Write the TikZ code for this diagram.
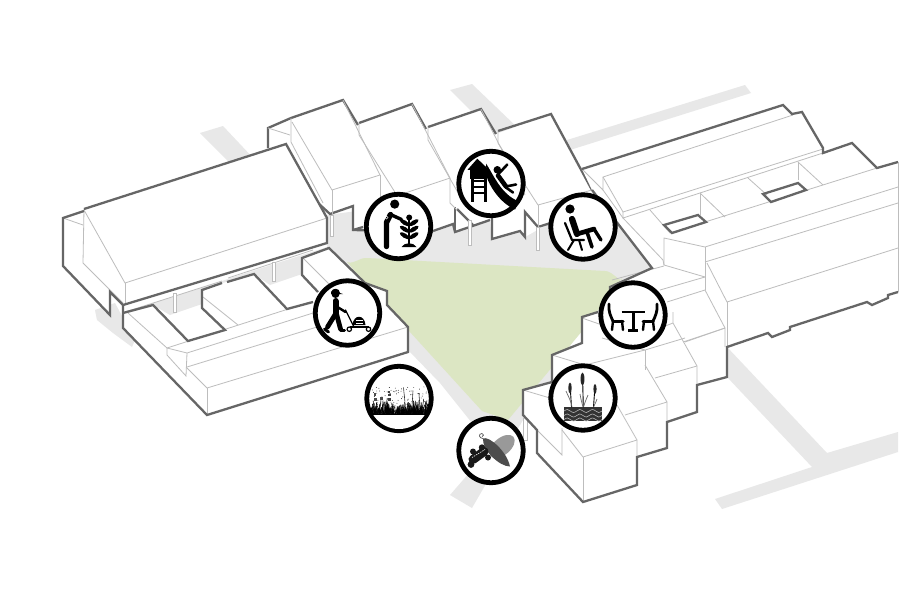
\documentclass[tikz,border=0pt]{standalone}
\usetikzlibrary{shapes.geometric}
\definecolor{ground}{HTML}{E8E8E8}
\definecolor{lawn}{HTML}{DCE6C3}
\definecolor{heavy}{HTML}{666666}
\definecolor{fine}{HTML}{BDBDBD}
\tikzset{
  road/.style={fill=ground,draw=none},
  mass/.style={fill=white,draw=none},
  hvy/.style={draw=heavy,line width=2.3pt,line join=miter},
  thn/.style={draw=fine,line width=.8pt},
  post/.style={fill=white,draw=fine,line width=.8pt},
  badge/.style={circle,draw=black,fill=white,line width=4.8pt,minimum size=64.4pt,inner sep=0pt},
  ink/.style={draw=black,line cap=round,line join=round},
}
\begin{document}
\begin{tikzpicture}[x=1pt,y=-1pt]
\useasboundingbox (0,0) rectangle (900,600);
\fill[white] (0,0) rectangle (900,600);
% roads
\path[road] (200,133)--(223,126)--(255,160)--(232,165)--cycle;
\path[road] (95,310)--(115,303)--(135,340)--(132,347)--(113,333)--(97,320)--cycle;
\path[road] (450,90)--(472,84)--(520,130)--(495,135)--cycle;
\path[road] (567,140)--(745,85)--(751,93)--(570,150)--cycle;
\path[road] (727,347)--(827,453)--(898,432)--(898,452)--(722,509)--(715,499)--(812,467)--(727,377)--cycle;
% courtyard
\path[road] (327,215)--(590,180)--(652,268)--(583,320)--(552,382)--(523,420)--(472,508)--(450,495)--(470,472)--(476,428)--(440,383)--(408,350)--(327,250)--cycle;
\path[fill=lawn] (347,262) to[out=-20,in=175] (367,258)--(605,271) to[out=5,in=-90] (622,278)--(583,330)--(508,420)--(482,411)--(358,275)--cycle;
% row of gabled houses
\path[mass] (268,148)--(268,128)--(291,118)--(343,100)--(358,125)--(412,104)--(426,129)--(481,109)--(496,134)--(551,114)--(592,190)--(618,235)--(548,224)--(525,237)--(520,232)--(492,240)--(490,219)--(455,232)--(453,225)--(433,232)--(353,230)--(353,206)--(328,215)--cycle;
\draw[hvy] (268,148)--(268,128)--(291,118)--(343,100)--(358,125);
\draw[hvy] (359,123)--(412,104)--(426,129);
\draw[hvy] (428,127)--(481,109)--(496,134);
\draw[hvy] (498,131)--(551,114)--(592,190);
\draw[hvy] (318,203)--(330,214)--(353,206)--(353,230)--(433,232);
\draw[hvy] (363,227)--(353,230);
\draw[hvy] (433,231)--(453,224)--(455,232)--(490,220);
\draw[hvy] (455,207)--(455,232);
\draw[hvy] (457,209)--(473,225);
\draw[hvy] (492,218)--(492,239)--(520,231)--(525,237)--(525,212)--(538,227)--(560,220);
\draw[thn] (268,128)--(290,135);
\draw[thn] (291,118)--(291,142)--(323,203);
\draw[thn] (292,122)--(332,190)--(380,175)--(343,100);
\draw[thn] (332,190)--(332,214);
\draw[thn] (380,175)--(380,200);
\draw[thn] (359,123)--(359,135)--(398,197);
\draw[thn] (412,104)--(450,178)--(405,193);
\draw[thn] (428,127)--(428,140)--(465,205);
\draw[thn] (450,178)--(450,203)--(457,210);
\draw[thn] (481,109)--(525,195);
\draw[thn] (498,131)--(498,143)--(538,205)--(592,190);
\draw[thn] (538,205)--(538,227);
\draw[post] (330,215) rectangle (333,236);
\draw[post] (468,220) rectangle (471,245);
\draw[post] (536,227) rectangle (539.5,250);
% left building eave band
\path[road] (125,310)--(327,245)--(329,248)--(302,258)--(302,274)--(270,285)--(254,274)--(227,282)--(202,290)--(202,304)--(170,315)--(153,305)--(125,313)--cycle;
\path[fill=white] (124,305)--(327,243)--(327,247)--(230,278)--(222,281)--(125,312)--cycle;
\draw[thn] (125,312)--(222,281);
\draw[thn] (228,278)--(313,250);
\draw[post] (173.5,293) rectangle (176.5,312);
\draw[post] (272,262) rectangle (275,281);
% left building
\path[mass] (63,218)--(84,211)--(84,209)--(286,144)--(327,218)--(327,243)--(123,305)--(110,292)--(110,315)--(63,266)--cycle;
\draw[thn] (84,209)--(83,263)--(123,303);
\draw[thn] (84,210)--(125,283)--(327,218);
\draw[thn] (125,283)--(125,304);
\draw[thn] (63,218)--(83,225);
\draw[hvy] (84,209)--(286,144)--(327,218)--(327,243)--(123,305)--(110,292)--(110,315)--(63,266)--(63,218)--(84,211);
% left terrace
\path[mass] (123,313)--(153,305)--(188,341)--(225,330)--(202,308)--(202,290)--(222,283)--(227,282)--(254,274)--(287,309)--(313,302)--(302,275)--(302,258)--(329,248)--(365,283)--(387,291)--(387,305)--(408,327)--(408,352)--(207,415)--(123,328)--cycle;
\draw[thn] (128,313)--(167,348)--(187,353)--(313,313);
\draw[thn] (167,348)--(310,302);
\draw[thn] (203,297)--(238,325);
\draw[thn] (167,348)--(167,355)--(186,376)--(187,353);
\draw[thn] (187,367)--(317,327);
\draw[thn] (187,368)--(207,388)--(408,327);
\draw[thn] (207,388)--(207,415);
\draw[thn] (303,258)--(330,285);
\draw[hvy] (123,305)--(123,328)--(207,415)--(408,352)--(408,327)--(387,305)--(387,291)--(365,283)--(329,248)--(302,258)--(302,275)--(318,292);
\draw[hvy] (123,313)--(153,305)--(188,341)--(225,330)--(202,308)--(202,290)--(222,283);
\draw[hvy] (227,282)--(254,274)--(287,309)--(313,302);
% right building
\path[mass] (582,169)--(783,105)--(792,114)--(802,112)--(823,148)--(823,153)--(852,143)--(877,168)--(898,162)--(898,292)--(888,295)--(888,298)--(872,305)--(867,302)--(790,327)--(790,330)--(772,337)--(768,333)--(727,347)--(727,377)--(697,385)--(697,412)--(667,422)--(667,448)--(637,457)--(637,485)--(583,502)--(537,453)--(537,430)--(523,415)--(523,390)--(552,382)--(552,355)--(582,343)--(582,317)--(598,312)--(610,305)--(610,287)--(652,268)--(592,190)--cycle;
% roofs
\draw[thn] (582,169)--(603,190)--(603,177)--(793,115);
\draw[thn] (603,177)--(623,212)--(823,149);
\draw[thn] (623,212)--(623,218)--(823,153);
\draw[thn] (603,190)--(623,218)--(663,260)--(664,265);
\draw[thn] (664,265)--(705,277);
\draw[thn] (664,265)--(664,238)--(705,247)--(898,187);
\draw[thn] (705,247)--(705,290);
\draw[thn] (705,262)--(898,203);
\draw[thn] (707,263)--(727,302)--(898,248);
\draw[thn] (727,302)--(727,347);
\draw[thn] (705,290)--(725,328)--(725,347);
\draw[thn] (650,210)--(670,233);
\draw[thn] (700,193)--(700,215);
\draw[thn] (700,193)--(725,217);
\draw[thn] (748,178)--(767,195);
\draw[thn] (798,162)--(798,180);
\draw[thn] (798,162)--(823,185);
\draw[thn] (670,233)--(877,168);
\draw[thn] (612,280)--(664,266);
\draw[thn] (705,277)--(660,290);
\draw[thn] (705,290)--(667,302);
\draw[thn] (725,328)--(683,342);
\draw[hvy] (664,225)--(698,215)--(706,222)--(672,233)--cycle;
\draw[hvy] (763,194)--(798,183)--(806,190)--(771,202)--cycle;
% stepped terraces
\draw[thn] (582,318)--(602,325);
\draw[thn] (673,312)--(673,323)--(697,366)--(697,385);
\draw[thn] (602,338)--(645,350)--(685,338);
\draw[thn] (645,350)--(645,370);
\draw[thn] (552,355)--(585,365)--(645,350);
\draw[thn] (685,342)--(725,328);
\draw[thn] (673,323)--(655,330);
\draw[thn] (645,365)--(667,402)--(667,422);
\draw[thn] (655,378)--(697,366);
\draw[thn] (625,415)--(667,402);
\draw[thn] (617,405)--(637,440)--(637,457);
\draw[thn] (583,457)--(637,440);
\draw[thn] (583,457)--(583,502);
\draw[thn] (583,457)--(562,430);
\draw[thn] (523,390)--(550,398);
\draw[thn] (537,430)--(562,455)--(562,428);
\draw[thn] (523,418)--(523,440);
\draw[thn] (527,420)--(527,440)--(523,440);
% outlines of right building
\draw[hvy] (582,169)--(783,105)--(792,114)--(802,112)--(823,148)--(823,153)--(852,143)--(877,168)--(898,162);
\draw[thn] (898,162)--(898,292);
\draw[hvy] (898,292)--(888,295)--(888,298)--(872,305)--(867,302)--(790,327)--(790,330)--(772,337)--(768,333)--(727,347)--(727,377)--(697,385)--(697,412)--(667,422)--(667,448)--(637,457)--(637,485)--(583,502)--(537,453)--(537,430)--(523,415)--(523,390)--(552,382)--(552,355)--(582,343)--(582,317)--(598,312);
\draw[hvy] (610,305)--(610,287)--(652,268)--(592,190);
% badges
\node[badge] (tend) at (398.5,226.5) {};
\node[badge] (slide) at (491,183.5) {};
\node[badge] (sit) at (583,227) {};
\node[badge] (mower) at (347.5,313) {};
\node[badge] (meadow) at (399,398.5) {};
\node[badge] (table) at (633,315) {};
\node[badge] (reed) at (583,398) {};
\node[badge] (bean) at (491,450.5) {};
% gardener
\begin{scope}[shift={(tend.center)}]
\fill (-3.8,-22.4) circle (4.6);
\draw[ink,line width=5.4pt] (-12,20)--(-12,-4)--(-8,-12);
\draw[ink,line width=3.4pt] (-8,-12)--(3,-7);
\draw[white,line width=.5pt] (-12,-9) circle (1.6);
\draw[ink,line width=1.6pt] (10.7,-8)--(10.7,18);
\fill (10.7,-9) circle (3);
\foreach \yy in {-1,5.5,12}{
  \fill[rotate around={32:(10.7,\yy)}] (16,\yy) ellipse (5.6 and 2.2);
  \fill[rotate around={-32:(10.7,\yy)}] (5.4,\yy) ellipse (5.6 and 2.2);
}
\fill (3,20.5) .. controls (6,15.5) and (15,15.5) .. (18,20.5)--cycle;
\end{scope}
% slide
\begin{scope}[shift={(slide.center)}]
\fill (-13.7,-24.8)--(-23.5,-13.7)--(-2,-13.7)--cycle;
\fill (-21,-14) rectangle (-3.7,-4.5);
\draw[ink,line width=3pt,line cap=butt] (-18.7,-6)--(-18.7,18.5);
\draw[ink,line width=3pt,line cap=butt] (-5.3,-6)--(-5.3,18.5);
\foreach \yy in {-3,3,9.7}{\draw[ink,line width=2pt,line cap=butt] (-18.7,\yy)--(-5.3,\yy);}
\fill (-5,-20) .. controls (3,-8) and (10,11) .. (28,18)--(24,26) .. controls (8,19) and (-2,1) .. (-4,-6)--cycle;
\fill (6.3,-13.7) circle (3.8);
\draw[ink,line width=2.6pt] (7,-9)--(16.3,-19);
\draw[ink,line width=4.6pt] (7,-8)--(15,3);
\draw[ink,line width=2.6pt] (15,3)--(25,1);
\draw[ink,line width=2.6pt] (15,4)--(22,9);
\end{scope}
% sitter
\begin{scope}[shift={(sit.center)}]
\fill (-13,-18) circle (4.6);
\draw[ink,line width=6.2pt] (-11,-8)--(-6,7);
\draw[ink,line width=4.6pt] (-6,7)--(11,2);
\draw[ink,line width=3.4pt] (11,2)--(18,13);
\draw[ink,line width=3.6pt] (-4,6)--(4,5)--(9,20);
\draw[ink,line width=2.2pt] (-18,-4)--(-11,13)--(1,13);
\draw[ink,line width=2pt] (-9,13)--(-15,23);
\draw[ink,line width=2pt] (-4,13)--(-1,23);
\end{scope}
% mower
\begin{scope}[shift={(mower.center)}]
\fill (-12,-19) circle (4);
\fill (-16.5,-21) .. controls (-15,-25.5) and (-8,-25.5) .. (-7.5,-20)--(-4.5,-19)--(-16.5,-19)--cycle;
\draw[ink,line width=6pt] (-12,-12)--(-12,1);
\draw[ink,line width=4.8pt] (-12,1)--(-20,14);
\draw[ink,line width=4.8pt] (-11,1)--(-7,16);
\draw[ink,line width=3pt] (-23,16)--(-19,19);
\draw[ink,line width=3pt] (-7,17)--(-3,17);
\draw[ink,line width=2.4pt] (-10,-6)--(-2,-1);
\draw[ink,line width=1.3pt] (-2,-3)--(6,13);
\fill (5,12) .. controls (6,1) and (17,1) .. (18,12)--cycle;
\fill[white] (8,7) rectangle (15,8);
\fill[white] (8,9.5) rectangle (15,10.5);
\fill (2,13) rectangle (21,15.4);
\draw[line width=1.2pt,fill=white] (1.8,16.2) circle (2.2);
\draw[line width=1.2pt,fill=white] (21,16.2) circle (2.2);
\end{scope}
% meadow
\begin{scope}[shift={(meadow.center)}]
\clip (0,0) circle (30.5);
\pgfmathsetseed{11}
\foreach \i in {1,...,340}{
  \pgfmathsetmacro\xa{rnd*64-32}
  \pgfmathsetmacro\hh{rnd*rnd*13+4}
  \pgfmathsetmacro\ln{(rnd-.5)*5}
  \draw[black,line width=.55pt] (\xa,16)--(\xa+\ln,16-\hh);
}
\foreach \i in {1,...,70}{
  \pgfmathsetmacro\xa{rnd*56-28}
  \pgfmathsetmacro\ya{rnd*18-12}
  \fill[black!85] (\xa,\ya) circle (.45);
}
\fill[black!75] (-10.7,-8) rectangle (-8.7,-6);
\fill[black!75] (-11.5,-5) rectangle (-8,-2.5);
\fill[black!75] (-11,-1) rectangle (-8,2);
\fill[black!70] (-25,-6) rectangle (-23,-3);
\fill[black!70] (-25.5,-1) rectangle (-22,2);
\fill[black!70] (-19,-2) rectangle (-16,1);
\draw[black!80,line width=.6pt] (4.5,-11) .. controls (5,-4) and (6,0) .. (6,8);
\draw[black!80,line width=.6pt] (14,-8)--(13,8);
\draw[black!80,line width=.6pt] (20,-4)--(21,8);
\fill[white] (-33,16.5) rectangle (33,33);
\draw[black,line width=1.2pt] (-33,15.8)--(33,15.8);
\end{scope}
% table
\begin{scope}[shift={(table.center)}]
\draw[ink,line width=2.6pt,line cap=butt] (-11.5,-3)--(11.5,-3);
\draw[ink,line width=3pt,line cap=butt] (0,-3)--(0,15);
\draw[ink,line width=2.4pt,line cap=butt] (-5,15.6)--(5,15.6);
\foreach \s in {1,-1}{
\begin{scope}[xscale=\s]
\draw[ink,line width=2.8pt] (-24,-11) .. controls (-25,-4) and (-22,2) .. (-20,6);
\draw[ink,line width=3pt] (-20,6)--(-10,6);
\draw[ink,line width=2.4pt] (-20,6)--(-21,15);
\draw[ink,line width=2.4pt] (-11,6)--(-10,15);
\end{scope}}
\end{scope}
% reeds
\begin{scope}[shift={(reed.center)}]
\fill[black!80] (-19,9.3) rectangle (19,23);
\foreach \yy in {13,17.5,21.5}{
\draw[white!70!black,line width=.6pt] (-19,\yy) .. controls (-16,\yy-2) and (-15,\yy-2) .. (-12.7,\yy) .. controls (-10,\yy+2) and (-9,\yy+2) .. (-6.3,\yy) .. controls (-4,\yy-2) and (-3,\yy-2) .. (0,\yy) .. controls (3,\yy+2) and (4,\yy+2) .. (6.3,\yy) .. controls (9,\yy-2) and (10,\yy-2) .. (12.7,\yy) .. controls (15,\yy+2) and (16,\yy+2) .. (19,\yy);
}
\draw[ink,line width=.9pt] (-13,-14)--(-11.5,9);
\draw[ink,line width=.9pt] (-0.5,-24)--(0.3,9);
\draw[ink,line width=.9pt] (12,-12)--(10.5,9);
\fill[black!85] (-13,-10) ellipse (1.7 and 5.5);
\fill[black!85] (-0.5,-19) ellipse (1.9 and 6.5);
\fill[black!85] (12,-9) ellipse (1.6 and 5);
\draw[black!60,line width=.7pt] (-17,-7) .. controls (-14,0) and (-12,3) .. (-11,9);
\draw[black!60,line width=.7pt] (-3,-4) .. controls (-2,2) and (-1,5) .. (0,9);
\draw[black!60,line width=.7pt] (5,-3) .. controls (3,2) and (1.5,5) .. (0.5,9);
\draw[black!60,line width=.7pt] (14,1) .. controls (13,4) and (12,6) .. (10.5,9);
\end{scope}
% beans
\begin{scope}[shift={(bean.center)}]
\fill[black!40,rotate around={40:(11,-4)}] (11,-4) ellipse (15 and 8.5);
\fill[black!70] (-8,-12) .. controls (-2,-15) and (16,1) .. (19,16) .. controls (8,16) and (-9,-1) .. (-8,-12)--cycle;
\draw[black!70,line width=.7pt] (-8,-12) .. controls (-12,-12) and (-13,-17) .. (-9,-17) .. controls (-7,-17) and (-7,-14) .. (-9,-14);
\draw[black!90,line width=9pt,line cap=round] (-18,9)--(-7,1);
\fill[black!90] (-20,14) circle (3.4);
\fill[black!90] (-9,-3) circle (3.2);
\fill[black!90] (-18,1) circle (3);
\fill[black!90] (-3,7) circle (3);
\draw[white,line width=.6pt,dash pattern=on 1.4pt off 1pt] (-19,7)--(-6,-1);
\end{scope}
\end{tikzpicture}
\end{document}
